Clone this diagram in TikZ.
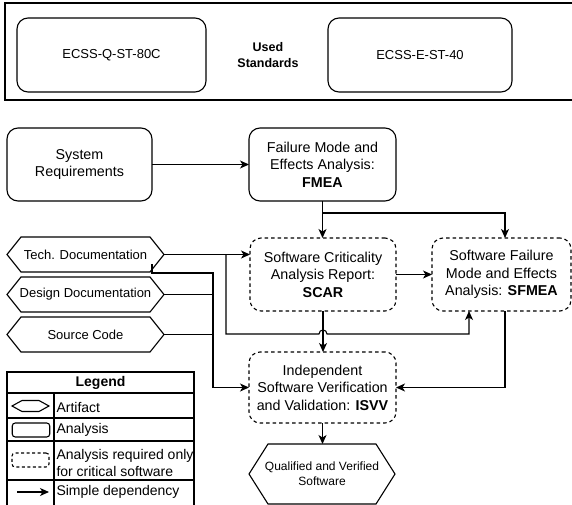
\documentclass[tikz,border=0pt]{standalone}
\usepackage{fontspec}
\setmainfont{Liberation Sans}
\usetikzlibrary{arrows.meta,calc}
\newcommand\drawhex[2]{%
  \draw ($(#1.west)$) -- ($(#1.north west)+(#2,0)$) -- ($(#1.north east)+(-#2,0)$) -- (#1.east)
        -- ($(#1.south east)+(-#2,0)$) -- ($(#1.south west)+(#2,0)$) -- cycle;}
\begin{document}
\begin{tikzpicture}[x=1pt,y=-1pt,line width=1.1pt,
  every node/.style={inner sep=0pt,outer sep=0pt},
  anbox/.style={draw,rounded corners=11pt,align=center,font=\fontsize{14.3}{17.4}\selectfont},
  crit/.style={anbox,dash pattern=on 3.5pt off 3pt},
  stdbox/.style={draw,rounded corners=11pt,align=center,font=\fontsize{13}{16}\selectfont},
  artnode/.style={align=center,font=\fontsize{13}{16}\selectfont},
  legtext/.style={anchor=west,align=left,font=\fontsize{14}{17}\selectfont},
  arr/.style={-{Stealth[length=9pt,width=8pt,inset=2.5pt]}}]
\useasboundingbox (0,0) rectangle (572,505);

% Used standards
\draw (5,3) rectangle (590,100);
\node[stdbox,minimum width=189,minimum height=74] (q80) at (111.5,55) {ECSS-Q-ST-80C};
\node[stdbox,minimum width=184,minimum height=74] (e40) at (420,55) {ECSS-E-ST-40};
\node[align=center,font=\bfseries\fontsize{12.5}{16}\selectfont] (std) at (268,55) {Used\\Standards};

% Main nodes
\node[anbox,minimum width=145,minimum height=73] (sysreq) at (79.5,164.5) {System\\Requirements};
\node[anbox,minimum width=147,minimum height=73] (fmea) at (322.5,164.5) {Failure Mode and\\Effects Analysis:\\\textbf{FMEA}};
\node[crit,minimum width=146,minimum height=73] (scar) at (323,274.5) {Software Criticality\\Analysis Report:\\\textbf{SCAR}};
\node[crit,minimum width=139,minimum height=73] (sfmea) at (501.5,274.5) {Software Failure\\Mode and Effects\\Analysis: \textbf{SFMEA}};
\node[crit,minimum width=147,minimum height=71] (isvv) at (322.5,387.5) {Independent\\Software Verification\\and Validation: \textbf{ISVV}};

% Artifacts
\node[artnode,minimum width=157,minimum height=35] (td) at (85.5,254.5) {Tech. Documentation};
\node[artnode,minimum width=157,minimum height=35] (dd) at (85.5,294.5) {Design Documentation};
\node[artnode,minimum width=157,minimum height=35] (sc) at (85.5,334.5) {Source Code};
\node[artnode,font=\fontsize{12}{15}\selectfont,minimum width=146,minimum height=60] (qual) at (322,474) {Qualified and Verified\\Software};
\drawhex{td}{14}
\drawhex{dd}{14}
\drawhex{sc}{14}
\drawhex{qual}{19}

% Connectors
\draw[arr] (sysreq.east) -- (fmea.west);
\draw[arr] (fmea.south) -- (fmea.south |- scar.north);
\coordinate (fb) at ($(fmea.south)+(0,12)$);
\coordinate (sfn) at ($(sfmea.north)+(3.5,0)$);
\draw[arr] (fb) -| (sfn);
\draw[arr] (scar.east) -- (sfmea.west);
\draw[arr] (scar.south) -- (scar.south |- isvv.north);
\draw[arr] (td.east) -- (td.east -| scar.west);

\coordinate (tb) at ($(td.east)+(62,0)$);
\coordinate (tb2) at ($(tb)+(0,79.5)$);
\coordinate (sfin) at ($(sfmea.south west)+(37,0)$);
\coordinate (hop) at (tb2 -| scar.south);
\draw[arr] (tb) -- (tb2) -- ($(hop)+(-4,0)$) .. controls +(0,-5.3) and +(0,-5.3) .. ($(hop)+(4,0)$)
  -- (tb2 -| sfin) -- (sfin);

\coordinate (tdo) at ($(td.east)+(-12,9.5)$);
\coordinate (mtop) at ($(tdo)+(0,9)$);
\coordinate (mcol) at ($(mtop)+(61,0)$);
\draw[arr] (tdo) -- (mtop) -- (mcol) |- (isvv.west);
\draw (dd.east) -- (dd.east -| mcol);
\draw (sc.east) -- (sc.east -| mcol);

\coordinate (sfs) at ($(sfmea.south)+(3.5,0)$);
\draw[arr] (sfs) |- (isvv.east);
\draw[arr] (isvv.south) -- (isvv.south |- qual.north);

% Legend
\draw (7,372) rectangle (194,515);
\draw (7,393) -- (194,393);
\draw (7,418) -- (194,418);
\draw (7,441) -- (194,441);
\draw (7,480) -- (194,480);
\draw (54,393) -- (54,515);
\node[font=\bfseries\fontsize{14}{17}\selectfont] (lg) at (100.5,383) {Legend};
\node[minimum width=37,minimum height=11] (lart) at (30.5,406) {};
\draw (lart.west) -- ($(lart.north west)+(10,0)$) -- ($(lart.north east)+(-10,0)$) -- (lart.east)
  -- ($(lart.south east)+(-10,0)$) -- ($(lart.south west)+(10,0)$) -- cycle;
\node[draw,rounded corners=3pt,minimum width=37.5,minimum height=14] (lan) at (31,430) {};
\node[draw,rounded corners=3pt,dash pattern=on 3pt off 2.5pt,minimum width=37,minimum height=14] (lcr) at (30.5,460) {};
\coordinate (la1) at (17,492);
\coordinate (la2) at (49,492);
\draw[arr] (la1) -- (la2);
\node[legtext] (t1) at (56.5,407) {Artifact};
\node[legtext] (t2) at (56.5,430) {Analysis};
\node[legtext] (t3) at (56.5,462.5) {Analysis required only\\for critical software};
\node[legtext] (t4) at (56.5,492) {Simple dependency};
\end{tikzpicture}
\end{document}
